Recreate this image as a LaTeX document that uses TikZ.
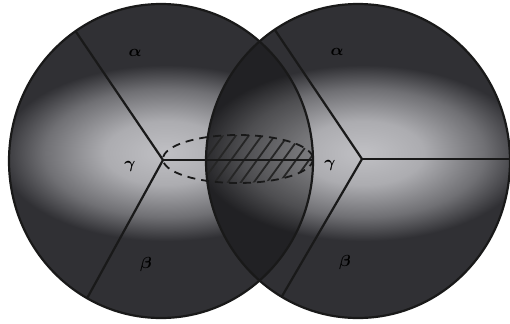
\documentclass[tikz,border=0pt]{standalone}
\usepackage{amsmath}
\usepackage{xcolor}
\usepackage{tikz}
\usetikzlibrary{calc}

\definecolor{discLight}{RGB}{192,192,196}
\definecolor{discMid}{RGB}{112,112,116}
\definecolor{discDark}{RGB}{48,48,52}
\pgfdeclareradialshading{grain}{\pgfpoint{0bp}{0bp}}{color(0bp)=(discLight); color(8bp)=(discLight!75!discMid); color(16bp)=(discMid); color(22bp)=(discDark); color(50bp)=(discDark)}

\begin{document}
\begin{tikzpicture}[x=0.5pt, y=-0.5pt,
  rim/.style={line width=1.1pt, draw=black!90},
  arm/.style={line width=1.1pt, black!90},
  lens/.style={line width=0.9pt, black!90, dash pattern=on 4pt off 3pt},
  hatch/.style={line width=0.9pt, black!85},
  lbl/.style={font=\footnotesize, text=black, inner sep=0pt}
]
\fill[white] (0,0) rectangle (510,323);
\useasboundingbox (0,0) rectangle (510,323);
\clip (0,0) rectangle (510,323);

\coordinate (cL) at (161,161);
\coordinate (cR) at (358,161);
\coordinate (jL) at (163,160);
\coordinate (jR) at (362,159);
\coordinate (lensC) at (238,159);

% the two grains
\foreach \c in {cL,cR}{
  \begin{scope}
    \clip (\c) ellipse [x radius=152, y radius=157];
    \fill[discDark] (\c) ellipse [x radius=152, y radius=157];
    \shade[shading=grain] ($(\c)+(-185,-108)$) rectangle ($(\c)+(195,92)$);
  \end{scope}
}

% overlap
\begin{scope}
  \clip (cL) ellipse [x radius=152, y radius=157];
  \fill[black, opacity=0.3] (cR) ellipse [x radius=152, y radius=157];
\end{scope}

% hatched part of the lens
\begin{scope}
  \clip (lensC) ellipse [x radius=75, y radius=24];
  \clip (cR) ellipse [x radius=152, y radius=157];
  \foreach \x in {150,163,...,330}
    \draw[hatch] (\x,200) -- ++(48,-66);
\end{scope}
\draw[lens] (lensC) ellipse [x radius=75, y radius=24];

% grain boundaries
\begin{scope}
  \clip (cL) ellipse [x radius=152, y radius=157];
  \draw[arm] (jL) -- ++(-110,-162);
  \draw[arm] (jL) -- ++(-95,173);
  \draw[arm] (jL) -- ++(200,0);
\end{scope}
\begin{scope}
  \clip (cR) ellipse [x radius=152, y radius=157];
  \draw[arm] (jR) -- ++(-110,-163);
  \draw[arm] (jR) -- ++(-95,163);
  \draw[arm] (jR) -- ++(200,0);
\end{scope}

\draw[rim] (cL) ellipse [x radius=152, y radius=157];
\draw[rim] (cR) ellipse [x radius=152, y radius=157];

\node[lbl] (alphaL) at (135,53) {$\boldsymbol{\alpha}$};
\node[lbl] (gammaL) at (130,166) {$\boldsymbol{\gamma}$};
\node[lbl] (betaL) at (146,264) {$\boldsymbol{\beta}$};
\node[lbl] (alphaR) at (337,52) {$\boldsymbol{\alpha}$};
\node[lbl] (gammaR) at (330,165) {$\boldsymbol{\gamma}$};
\node[lbl] (betaR) at (345,262) {$\boldsymbol{\beta}$};
\end{tikzpicture}
\end{document}
